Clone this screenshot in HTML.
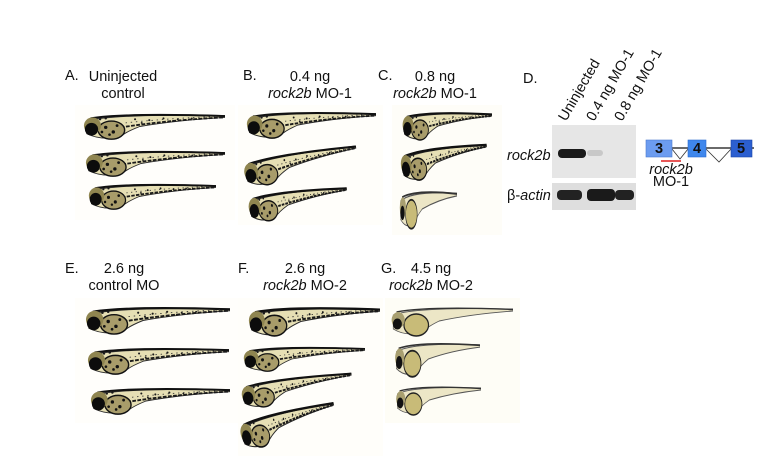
<!DOCTYPE html>
<html><head><meta charset="utf-8"><style>
html,body{margin:0;padding:0;background:#fff;}
svg{display:block;}
text{font-family:"Liberation Sans",sans-serif;font-size:14.5px;fill:#111;}
</style></head><body>
<svg width="766" height="460" viewBox="0 0 766 460" xmlns="http://www.w3.org/2000/svg">
<defs>
<symbol id="fish" viewBox="0 0 150 32" preserveAspectRatio="none">
<path d="M4,10 Q30,2 150,4 L150,6 Q100,9 60,16 Q45,22 40,27 Q20,32 4,24 Z" fill="#e6dfb4" stroke="#2a2a2a" stroke-width="1"/>
<path d="M8,7 Q45,1 150,4.5" fill="none" stroke="#111" stroke-width="2.2"/>
<path d="M40,17 Q90,9 148,6" fill="none" stroke="#1a1a1a" stroke-width="2" stroke-dasharray="4 1.5"/>
<path d="M45,12 Q90,7 140,5" fill="none" stroke="#333" stroke-width="0.9" stroke-dasharray="1.5 4"/>
<ellipse cx="30" cy="20" rx="14" ry="10" fill="#a89c6a" stroke="#111" stroke-width="1.5"/>
<g fill="#111"><circle cx="24" cy="17" r="1.8"/><circle cx="32" cy="22" r="1.8"/><circle cx="36" cy="15" r="1.5"/><circle cx="28" cy="25" r="1.4"/><circle cx="20" cy="22" r="1.4"/></g>
<circle cx="10" cy="15" r="9" fill="#8f8550"/>
<circle cx="9" cy="19" r="7" fill="#0c0c0c"/>
<g fill="#1a1a1a"><circle cx="55" cy="8" r="1.1"/><circle cx="70" cy="9" r="1.1"/><circle cx="85" cy="7" r="1.1"/><circle cx="100" cy="8" r="1"/><circle cx="115" cy="7" r="1"/><circle cx="62" cy="12" r="1"/><circle cx="95" cy="10" r="1"/><circle cx="18" cy="8" r="1.3"/><circle cx="24" cy="7" r="1.3"/></g>
</symbol>
<symbol id="fishg" viewBox="0 0 150 32" preserveAspectRatio="none">
<path d="M4,10 Q30,2 150,4 L150,6 Q100,9 60,16 Q45,22 40,27 Q20,32 4,24 Z" fill="#ece6c6" stroke="#555" stroke-width="0.9"/>
<path d="M8,7 Q45,1 150,4.5" fill="none" stroke="#333" stroke-width="1.4"/>
<ellipse cx="32" cy="20" rx="15" ry="11" fill="#c8bb78" stroke="#222" stroke-width="1.5"/>
<circle cx="10" cy="15" r="8" fill="#a89f70"/>
<circle cx="9" cy="19" r="5.5" fill="#111"/>
</symbol>
</defs>
<rect x="75" y="105" width="160" height="115" fill="#fffefb"/>
<rect x="238" y="105" width="145" height="120" fill="#fffefa"/>
<rect x="392" y="105" width="110" height="130" fill="#fefdf8"/>
<rect x="75" y="298" width="165" height="125" fill="#fffefb"/>
<rect x="238" y="298" width="145" height="158" fill="#fffefa"/>
<rect x="385" y="298" width="135" height="125" fill="#fefdf6"/>

<use href="#fish" x="83" y="112" width="142" height="29"/>
<use href="#fish" x="85" y="149" width="140" height="29"/>
<use href="#fish" x="88" y="182" width="128" height="29"/>

<use href="#fish" x="246" y="110" width="130" height="30"/>
<use href="#fish" x="243" y="150" width="115" height="32" transform="rotate(-8 300 165)"/>
<use href="#fish" x="248" y="188" width="100" height="32" transform="rotate(-5 300 205)"/>

<use href="#fish" x="402" y="110" width="90" height="32"/>
<use href="#fish" x="400" y="145" width="88" height="35" transform="rotate(-6 440 160)"/>
<use href="#fishg" x="399" y="188" width="58" height="42"/>

<use href="#fish" x="85" y="305" width="145" height="31"/>
<use href="#fish" x="87" y="346" width="142" height="30"/>
<use href="#fish" x="90" y="386" width="140" height="30"/>

<use href="#fish" x="248" y="305" width="132" height="33"/>
<use href="#fish" x="243" y="345" width="122" height="28"/>
<use href="#fish" x="241" y="376" width="112" height="30" transform="rotate(-6 290 392)"/>
<use href="#fish" x="240" y="410" width="98" height="35" transform="rotate(-12 280 430)"/>

<use href="#fishg" x="390" y="305" width="123" height="32"/>
<use href="#fishg" x="394" y="340" width="86" height="38"/>
<use href="#fishg" x="395" y="384" width="86" height="32"/>

<text x="65" y="80">A.</text>
<text x="123" y="81" text-anchor="middle">Uninjected</text>
<text x="123" y="98" text-anchor="middle">control</text>
<text x="243" y="80">B.</text>
<text x="310" y="81" text-anchor="middle">0.4 ng</text>
<text x="310" y="98" text-anchor="middle"><tspan font-style="italic">rock2b</tspan> MO-1</text>
<text x="378" y="80">C.</text>
<text x="435" y="81" text-anchor="middle">0.8 ng</text>
<text x="435" y="98" text-anchor="middle"><tspan font-style="italic">rock2b</tspan> MO-1</text>
<text x="523" y="83">D.</text>
<text x="65" y="273">E.</text>
<text x="124" y="273" text-anchor="middle">2.6 ng</text>
<text x="124" y="290" text-anchor="middle">control MO</text>
<text x="238" y="273">F.</text>
<text x="305" y="273" text-anchor="middle">2.6 ng</text>
<text x="305" y="290" text-anchor="middle"><tspan font-style="italic">rock2b</tspan> MO-2</text>
<text x="381" y="273">G.</text>
<text x="431" y="273" text-anchor="middle">4.5 ng</text>
<text x="431" y="290" text-anchor="middle"><tspan font-style="italic">rock2b</tspan> MO-2</text>

<!-- gel -->
<rect x="552" y="125" width="84" height="53" fill="#e6e6e6"/>
<rect x="552" y="183" width="84" height="27" fill="#dedede"/>
<rect x="558" y="149" width="28" height="9" rx="4" fill="#1a1a1a"/>
<rect x="587" y="150" width="16" height="6" rx="3" fill="#c8c8c8"/>
<rect x="557" y="190" width="25" height="10" rx="4" fill="#222"/>
<rect x="587" y="189" width="28" height="12" rx="4" fill="#1a1a1a"/>
<rect x="615" y="190" width="19" height="10" rx="4" fill="#222"/>
<text x="507" y="160" font-style="italic" font-size="12">rock2b</text>
<text x="507" y="200" font-size="12">β-<tspan font-style="italic">actin</tspan></text>
<text font-size="10.5" transform="translate(566,122) rotate(-60)">Uninjected</text>
<text font-size="10.5" transform="translate(594,122) rotate(-60)">0.4 ng MO-1</text>
<text font-size="10.5" transform="translate(622,122) rotate(-60)">0.8 ng MO-1</text>
<!-- gene -->
<line x1="672" y1="148" x2="754" y2="148" stroke="#111" stroke-width="1.2"/>
<polyline points="672,149 680,159 688,149" fill="none" stroke="#333" stroke-width="0.8"/>
<polyline points="706,149 719,162 731,149" fill="none" stroke="#333" stroke-width="0.8"/>
<rect x="646" y="140" width="26" height="17" fill="#6c9cf0" stroke="#4a7ad0" stroke-width="0.6"/>
<rect x="688" y="140" width="18" height="17" fill="#3f87ec" stroke="#2a6ad0" stroke-width="0.6"/>
<rect x="731" y="140" width="21" height="17" fill="#2c5fd0" stroke="#1c45a8" stroke-width="0.6"/>
<text x="659" y="153" text-anchor="middle" font-size="10" font-weight="bold">3</text>
<text x="697" y="153" text-anchor="middle" font-size="10" font-weight="bold">4</text>
<text x="741" y="153" text-anchor="middle" font-size="10" font-weight="bold">5</text>
<line x1="661" y1="161" x2="681" y2="161" stroke="#e02020" stroke-width="1.5"/>
<text x="671" y="174" text-anchor="middle" font-size="10" font-style="italic">rock2b</text>
<text x="671" y="186" text-anchor="middle" font-size="10">MO-1</text>
</svg>
</body></html>
